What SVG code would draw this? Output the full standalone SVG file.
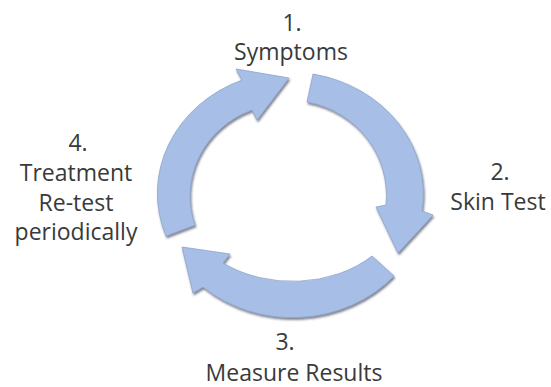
<svg xmlns="http://www.w3.org/2000/svg" width="551" height="387" viewBox="0 0 551 387">
<defs>
<filter id="sh" x="-10%" y="-10%" width="130%" height="130%">
<feDropShadow dx="1" dy="2" stdDeviation="1.3" flood-color="#3a3f55" flood-opacity="0.65"/>
</filter>
<style>
.arc{fill:#a7bfe6;stroke:#8ea4cc;stroke-width:0.8;filter:url(#sh)}
.t{font-family:"Open Sans","Noto Sans",sans-serif;font-size:23px;fill:#3a3a3a;text-anchor:middle}
</style>
</defs>
<rect width="551" height="387" fill="#ffffff"/>
<g id="connectors">
<path class="arc" d="M313,74 A135,122 0 0 1 422,211 L433,215 L398,253 L376,207 L386,205 A97,95 0 0 0 307,102 Z"/>
<path class="arc" d="M394,276 A135,122 0 0 1 203,287 L193,293 L182,247 L230,254 L223,263 A110,82 0 0 0 372,256 Z"/>
<path class="arc" d="M166,236 A135,122 0 0 1 242,80 L236,69 L289,78 L257,120 L252,110 A97,92 0 0 0 195,225 Z"/>
</g>
<g id="node1">
<text class="t" x="292" y="31">1.</text>
<text class="t" x="291" y="60">Symptoms</text>
</g>
<g id="node2">
<text class="t" x="500" y="180">2.</text>
<text class="t" x="498" y="210">Skin Test</text>
</g>
<g id="node3">
<text class="t" x="285" y="350">3.</text>
<text class="t" x="294" y="381">Measure Results</text>
</g>
<g id="node4">
<text class="t" x="78" y="151">4.</text>
<text class="t" x="76" y="181">Treatment</text>
<text class="t" x="76" y="211">Re-test</text>
<text class="t" x="76" y="240">periodically</text>
</g>
</svg>
